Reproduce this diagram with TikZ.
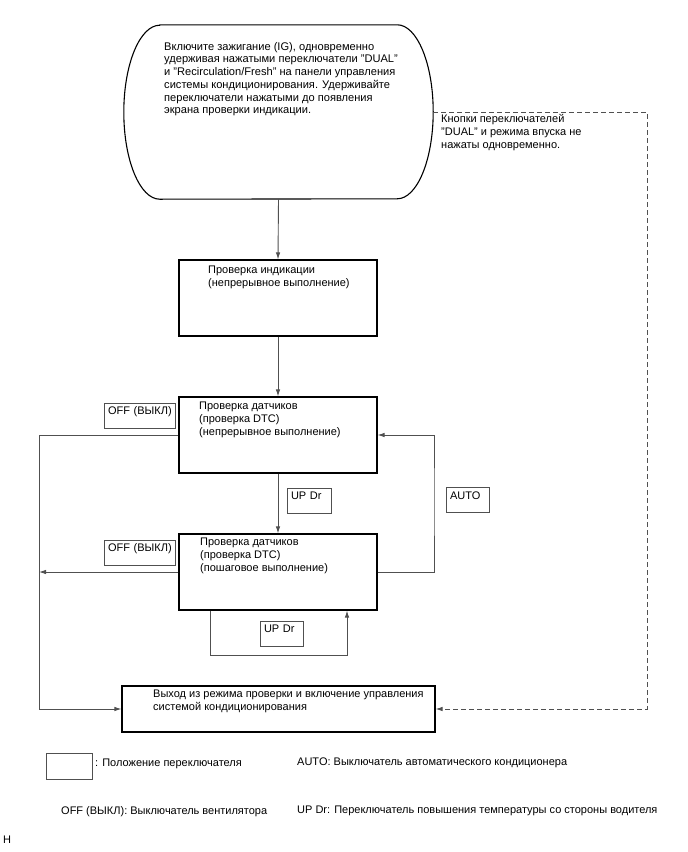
\documentclass[tikz,border=0pt]{standalone}
\usepackage{fontspec}
\setmainfont{Liberation Sans}
\usetikzlibrary{arrows.meta,positioning}
\definecolor{lngray}{RGB}{80,80,80}
\tikzset{
  box/.style={draw=black, line width=1.1pt, minimum width=198pt, minimum height=76pt, inner sep=0pt},
  txt/.style={anchor=north west, inner sep=0pt, align=left, font=\fontsize{11}{13}\selectfont},
  legtxt/.style={anchor=west, inner sep=0pt, font=\fontsize{11}{13}\selectfont},
  swbox/.style={draw=lngray, line width=0.9pt, text width=#1, align=left, inner xsep=4pt, inner ysep=2.5pt,
    text height=9pt, text depth=11pt, font=\fontsize{11}{13}\selectfont},
  conn/.style={draw=lngray, line width=0.9pt},
  arr/.style={-{Latex[length=7pt,width=4.5pt]}},
}
\begin{document}
\begin{tikzpicture}[x=1pt, y=-1pt]
\useasboundingbox (0,0) rectangle (688,852);

\node (start) [minimum width=309pt, minimum height=174pt, inner sep=0pt] at (278.5,112) {};
\draw[line width=1.1pt] ([xshift=36pt]start.north west) -- ([xshift=-36pt]start.north east)
  arc[start angle=90, end angle=-90, x radius=36pt, y radius=87pt]
  -- ([xshift=36pt]start.south west)
  arc[start angle=270, end angle=90, x radius=36pt, y radius=87pt] -- cycle;
\node[txt, font=\fontsize{11.1}{12.7}\selectfont] (starttxt) at (164,42) {Включите зажигание (IG), одновременно\\
удерживая нажатыми переключатели "DUAL"\\
и "Recirculation/Fresh" на панели управления\\
системы кондиционирования. Удерживайте\\
переключатели нажатыми до появления\\
экрана проверки индикации.};

\node[box] (ind) at (278,298) {};
\node[txt] (indtxt) at (208,266) {Проверка индикации\\(непрерывное выполнение)};

\node[box] (sens1) at (278,435) {};
\node[txt] (sens1txt) at (199,402) {Проверка датчиков\\(проверка DTC)\\(непрерывное выполнение)};

\node[box] (sens2) at (278,572) {};
\node[txt] (sens2txt) at (200,538) {Проверка датчиков\\(проверка DTC)\\(пошаговое выполнение)};

\node[box, minimum width=313pt, minimum height=46pt] (exitbox) at (278.5,709) {};
\node[txt] (exittxt) at (153,690) {Выход из режима проверки и включение управления\\системой кондиционирования};

\node[swbox=63pt] (off1) at (139.5,415.5) {OFF~(ВЫКЛ)};
\node[swbox=63pt] (off2) at (139.5,552.5) {OFF~(ВЫКЛ)};
\node[swbox=36pt] (updr1) at (309,500.5) {UP~Dr};
\node[swbox=35pt] (updr2) at (281.5,633.5) {UP~Dr};
\node[swbox=35pt] (auto) at (467.5,500) {AUTO};

\node[txt] (dashtxt) at (441,114) {Кнопки переключателей\\"DUAL" и режима впуска не\\нажаты одновременно.};

\coordinate (lbus) at (39,435);
\coordinate (rbus) at (434,500);
\coordinate (dbus) at (647,400);
\coordinate (loopl) at (210,655);
\coordinate (loopr) at (347,655);

\draw[conn, arr] (start.south) -- (ind.north);
\draw[conn, arr] (ind.south) -- (sens1.north);
\draw[conn, arr] (sens1.south) -- (sens2.north);
\draw[conn, arr] (sens1.west) -- (lbus) |- (exitbox.west);
\draw[conn, arr] (sens2.west) -- (sens2.west -| lbus);
\draw[conn, arr] (sens2.east) -| (rbus) |- (sens1.east);
\draw[conn, arr] (loopl |- sens2.south) -- (loopl) -- (loopr) -- (loopr |- sens2.south);
\draw[conn, arr, dashed, dash pattern=on 5pt off 3pt] (start.east) -| (dbus) |- (exitbox.east);

\node[swbox=38pt, minimum height=26pt] (legbox) at (69,766) {};
\node[legtxt] (legsw) at (95,764) {: Положение переключателя};
\node[legtxt] (legauto) at (297,763) {AUTO: Выключатель автоматического кондиционера};
\node[legtxt] (legoff) at (61,812) {OFF (ВЫКЛ): Выключатель вентилятора};
\node[legtxt] (legup) at (297,811) {UP Dr: Переключатель повышения температуры со стороны водителя};
\node[legtxt] (figid) at (3,840) {H};
\end{tikzpicture}
\end{document}
